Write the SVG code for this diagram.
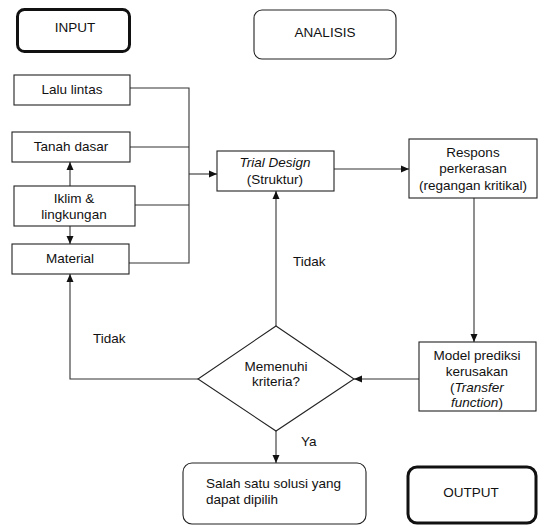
<svg xmlns="http://www.w3.org/2000/svg" width="542" height="526" viewBox="0 0 542 526">
<defs>
<marker id="arr" markerUnits="userSpaceOnUse" markerWidth="8" markerHeight="8" refX="8" refY="4" orient="auto">
<path d="M0,0.5 L8,4 L0,7.5 z" fill="#111"/>
</marker>
<style>
.box{fill:#fff;stroke:#222;stroke-width:1.1}
.thick{fill:#fff;stroke:#111;stroke-width:3}
.ln{fill:none;stroke:#333;stroke-width:1.1}
text{font-family:"Liberation Sans",Arial,sans-serif;font-size:13.5px;fill:#111}
.c{text-anchor:middle}
.it{font-style:italic}
</style>
</defs>
<rect width="542" height="526" fill="#fff"/>
<g id="connectors">
<polyline class="ln" points="130,88 189,88 189,263 129,263"/>
<line class="ln" x1="130" y1="147" x2="189" y2="147"/>
<line class="ln" x1="135" y1="205" x2="189" y2="205"/>
<line class="ln" x1="189" y1="174" x2="217" y2="174" marker-end="url(#arr)"/>
<line class="ln" x1="70" y1="186" x2="70" y2="162" marker-end="url(#arr)"/>
<line class="ln" x1="70" y1="226" x2="70" y2="244" marker-end="url(#arr)"/>
<line class="ln" x1="334" y1="169" x2="409" y2="169" marker-end="url(#arr)"/>
<line class="ln" x1="474" y1="198" x2="474" y2="342" marker-end="url(#arr)"/>
<line class="ln" x1="419" y1="379" x2="354" y2="379" marker-end="url(#arr)"/>
<line class="ln" x1="276" y1="326" x2="276" y2="191" marker-end="url(#arr)"/>
<polyline class="ln" points="198,379 70,379 70,274" marker-end="url(#arr)"/>
<line class="ln" x1="276" y1="431" x2="276" y2="463" marker-end="url(#arr)"/>
<text x="293" y="266">Tidak</text>
<text x="93" y="343">Tidak</text>
<text x="301" y="446">Ya</text>
</g>
<g id="input">
<rect class="thick" x="17.5" y="9.5" width="112" height="42" rx="7"/>
<text class="c" x="75" y="32">INPUT</text>
</g>
<g id="analisis">
<rect class="box" x="254" y="10" width="142" height="49" rx="8"/>
<text class="c" x="325" y="37">ANALISIS</text>
</g>
<g id="lalu-lintas">
<rect class="box" x="14" y="75" width="116" height="30"/>
<text class="c" x="72" y="94">Lalu lintas</text>
</g>
<g id="tanah-dasar">
<rect class="box" x="12" y="132" width="118" height="30"/>
<text class="c" x="71" y="151">Tanah dasar</text>
</g>
<g id="iklim">
<rect class="box" x="14" y="186" width="121" height="40"/>
<text class="c" x="74" y="203">Iklim &amp;</text>
<text class="c" x="74" y="219">lingkungan</text>
</g>
<g id="material">
<rect class="box" x="12" y="244" width="117" height="30"/>
<text class="c" x="70" y="263">Material</text>
</g>
<g id="trial-design">
<rect class="box" x="217" y="151" width="117" height="40"/>
<text class="c it" x="275" y="167">Trial Design</text>
<text class="c" x="275" y="184">(Struktur)</text>
</g>
<g id="respons">
<rect class="box" x="409" y="139" width="128" height="59"/>
<text class="c" x="473" y="157">Respons</text>
<text class="c" x="473" y="173">perkerasan</text>
<text class="c" x="473" y="190">(regangan kritikal)</text>
</g>
<g id="model">
<rect class="box" x="419" y="342" width="117" height="69"/>
<text class="c" x="477" y="360">Model prediksi</text>
<text class="c" x="477" y="376">kerusakan</text>
<text class="c" x="477" y="392">(<tspan class="it">Transfer</tspan></text>
<text class="c" x="477" y="407"><tspan class="it">function</tspan>)</text>
</g>
<g id="kriteria">
<polygon class="box" points="276,326 354,379 276,431 198,379"/>
<text class="c" x="276" y="371">Memenuhi</text>
<text class="c" x="276" y="386">kriteria?</text>
</g>
<g id="solusi">
<rect class="box" x="183" y="463" width="183" height="61" rx="9"/>
<text x="206" y="488">Salah satu solusi yang</text>
<text x="206" y="504">dapat dipilih</text>
</g>
<g id="output">
<rect class="thick" x="408" y="467" width="128" height="56" rx="9"/>
<text class="c" x="471" y="497">OUTPUT</text>
</g>
</svg>
